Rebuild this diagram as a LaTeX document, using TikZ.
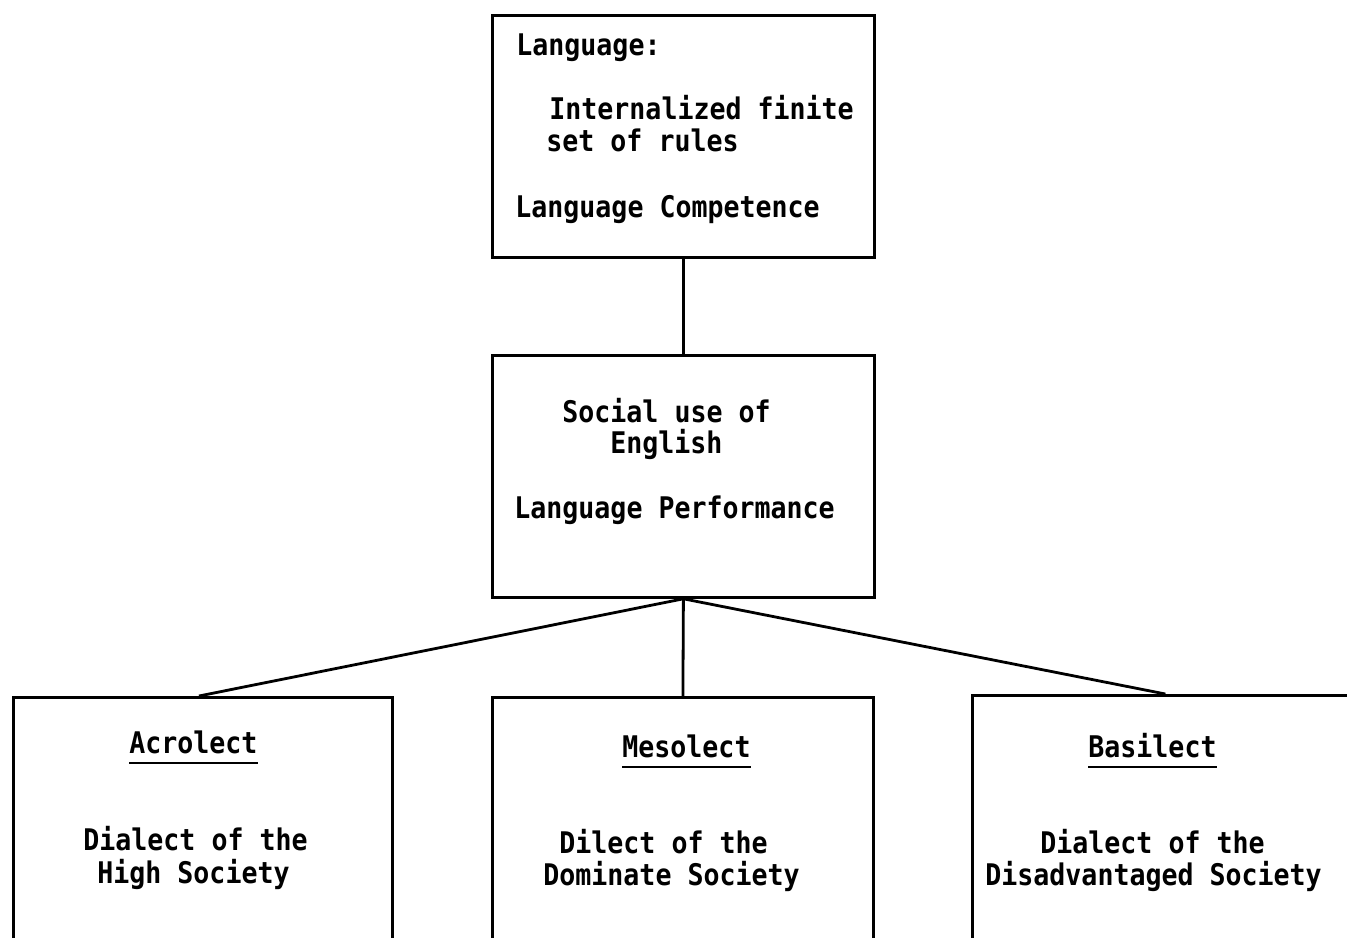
\documentclass[tikz,border=0pt]{standalone}
\usepackage{fontspec}
\newfontfamily\typefont{DejaVu Sans Mono}
\newcommand{\tallt}[1]{\scalebox{1}[1.12]{#1}}
\begin{document}
\begin{tikzpicture}[x=0.5pt,y=-0.5pt,
  boxnode/.style={draw=black,line width=1.4pt,rectangle,inner sep=0pt,anchor=north west},
  txt/.style={anchor=base west,inner sep=0pt,font=\typefont\bfseries\fontsize{13.3pt}{16pt}\selectfont},
  link/.style={line width=1.4pt},
  uline/.style={line width=1.2pt}]
\useasboundingbox (0,0) rectangle (1347,937);
\clip (0,0) rectangle (1347,937);
\fill[white] (0,0) rectangle (1347,937);
% boxes
\node[boxnode,minimum width=191pt,minimum height=121pt] (top) at (491,14) {};
\node[boxnode,minimum width=191pt,minimum height=121pt] (mid) at (491,354) {};
\node[boxnode,minimum width=189.5pt,minimum height=135pt] (left) at (12,696) {};
\node[boxnode,minimum width=190.5pt,minimum height=135pt] (center) at (491,696) {};
\node[boxnode,minimum width=193pt,minimum height=135pt] (right) at (971,694) {};
% connectors
\draw[link] (top.south) -- (mid.north);
\draw[link] (mid.south) -- ([xshift=-2pt]left.north);
\draw[link] (mid.south) -- (center.north);
\draw[link] (mid.south) -- (right.north);
% top box text
\node[txt] (t1) at (516,55) {\tallt{Language:}};
\node[txt] (t2) at (549,119) {\tallt{Internalized finite}};
\node[txt] (t3) at (546,151) {\tallt{set of rules}};
\node[txt] (t4) at (515,217) {\tallt{Language Competence}};
% middle box text
\node[txt] (m1) at (562,422) {\tallt{Social use of}};
\node[txt] (m2) at (610,453) {\tallt{English}};
\node[txt] (m3) at (514,518) {\tallt{Language Performance}};
% bottom left
\node[txt] (a1) at (129,753) {\tallt{Acrolect}};
\node[txt] (a2) at (83,850) {\tallt{Dialect of the}};
\node[txt] (a3) at (97,883) {\tallt{High Society}};
% bottom center
\node[txt] (c1) at (622,757) {\tallt{Mesolect}};
\node[txt] (c2) at (559,853) {\tallt{Dilect of the}};
\node[txt] (c3) at (543,885) {\tallt{Dominate Society}};
% bottom right
\node[txt] (r1) at (1088,757) {\tallt{Basilect}};
\node[txt] (r2) at (1040,853) {\tallt{Dialect of the}};
\node[txt] (r3) at (985,885) {\tallt{Disadvantaged Society}};
% underlines
\draw[uline] ([yshift=-5pt]a1.base west) -- ([yshift=-5pt]a1.base east);
\draw[uline] ([yshift=-5pt]c1.base west) -- ([yshift=-5pt]c1.base east);
\draw[uline] ([yshift=-5pt]r1.base west) -- ([yshift=-5pt]r1.base east);
\end{tikzpicture}
\end{document}
